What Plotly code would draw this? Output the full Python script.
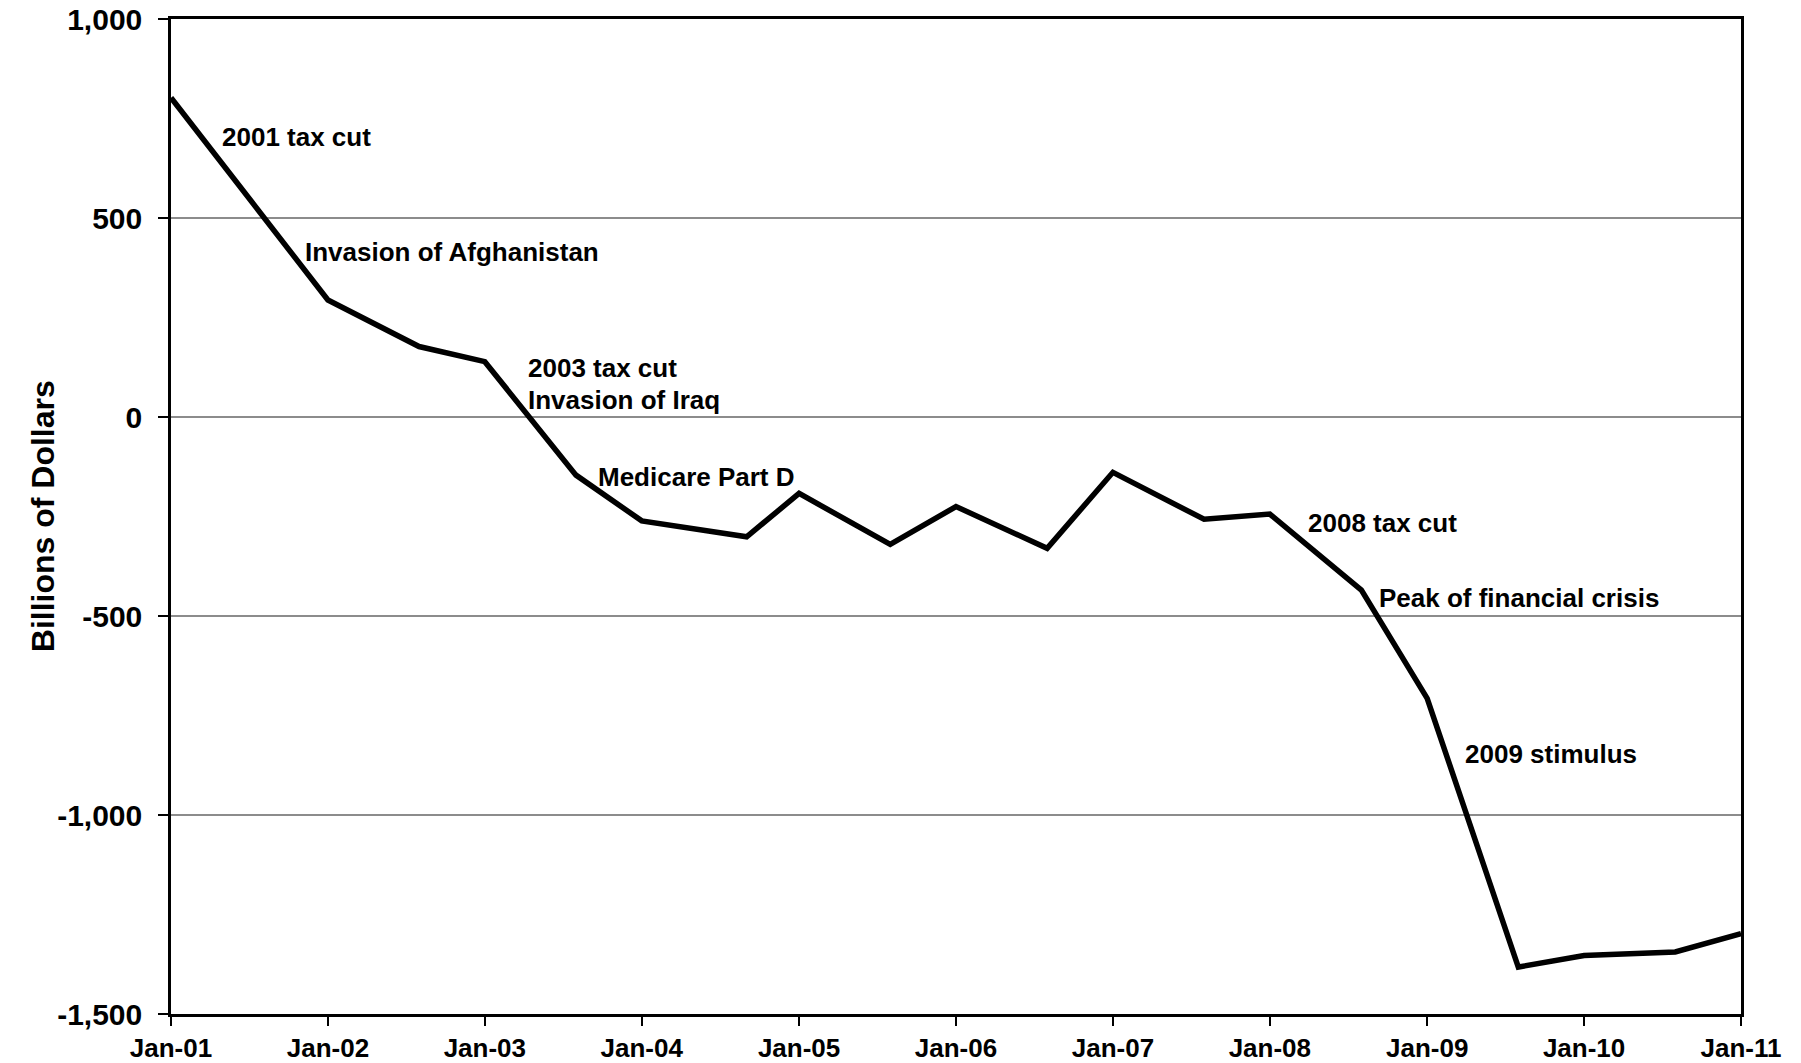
import plotly.graph_objects as go

# Projection dates and values (billions of dollars)
dates = [
    "2001-01-01", "2002-01-01", "2002-08-01", "2003-01-01", "2003-08-01",
    "2004-01-01", "2004-09-01", "2005-01-01", "2005-08-01", "2006-01-01",
    "2006-08-01", "2007-01-01", "2007-08-01", "2008-01-01", "2008-08-01",
    "2009-01-01", "2009-08-01", "2010-01-01", "2010-08-01", "2011-01-01",
]
values = [
    802, 294, 177, 139, -146,
    -261, -301, -192, -320, -225,
    -330, -139, -257, -244, -435,
    -707, -1382, -1353, -1344, -1298,
]

x_tick_vals = [f"{y}-01-01" for y in range(2001, 2012)]
x_tick_text = ["Jan-01", "Jan-02", "Jan-03", "Jan-04", "Jan-05", "Jan-06",
               "Jan-07", "Jan-08", "Jan-09", "Jan-10", "Jan-11"]
y_tick_vals = [-1500, -1000, -500, 0, 500, 1000]
y_tick_text = ["-1,500", "-1,000", "-500", "0", "500", "1,000"]
y_title = "Billions of Dollars"

event_labels = ["2001 tax cut", "Invasion of Afghanistan", "2003 tax cut",
                "Invasion of Iraq", "Medicare Part D", "2008 tax cut",
                "Peak of financial crisis", "2009 stimulus"]
event_x = ["2001-05-01", "2001-11-12", "2003-04-13", "2003-04-13",
           "2003-09-24", "2008-04-01", "2008-09-13", "2009-04-02"]
event_y = [703, 415, 123, 43, -151, -266, -454, -847]

FONT = "Liberation Sans, Arial, sans-serif"

fig = go.Figure()
fig.add_trace(go.Scatter(
    x=dates, y=values, mode="lines",
    line=dict(color="black", width=5.5),
    hoverinfo="skip", showlegend=False,
))

for t, xx, yy in zip(event_labels, event_x, event_y):
    fig.add_annotation(
        x=xx, y=yy, text=t, showarrow=False, xshift=-3,
        xanchor="left", yanchor="middle",
        font=dict(family=FONT, size=26, color="black", weight="bold"),
    )

# y-axis title
fig.add_annotation(
    x=-0.0817, y=0.5, xref="paper", yref="paper", text=y_title,
    textangle=-90, showarrow=False, xanchor="center", yanchor="middle",
    font=dict(family=FONT, size=32, color="black", weight="bold"),
)

fig.update_layout(
    width=1801, height=1063,
    margin=dict(l=171, r=60, t=19, b=49),
    paper_bgcolor="white", plot_bgcolor="white",
    showlegend=False,
)
fig.update_xaxes(
    type="date", range=["2001-01-01", "2011-01-01"],
    tickvals=x_tick_vals, ticktext=x_tick_text,
    ticks="outside", ticklen=9, tickwidth=2, tickcolor="black",
    showline=True, linecolor="black", linewidth=2.5, mirror=True,
    showgrid=False, zeroline=False, automargin=False,
    tickfont=dict(family=FONT, size=26, color="black", weight="bold"),
)
fig.update_yaxes(
    range=[-1500, 1000],
    tickvals=y_tick_vals, ticktext=y_tick_text,
    ticks="outside", ticklen=10, tickwidth=2, tickcolor="black",
    showline=True, linecolor="black", linewidth=2.5, mirror=True,
    showgrid=True, gridcolor="#8c8c8c", gridwidth=1.5, zeroline=False,
    ticklabelstandoff=10, automargin=False,
    tickfont=dict(family=FONT, size=30, color="black", weight="bold"),
)

fig.write_html(
    "out.html",
    config={"displayModeBar": False},
    post_script="document.body.style.margin='0';document.body.style.overflow='hidden';",
)
